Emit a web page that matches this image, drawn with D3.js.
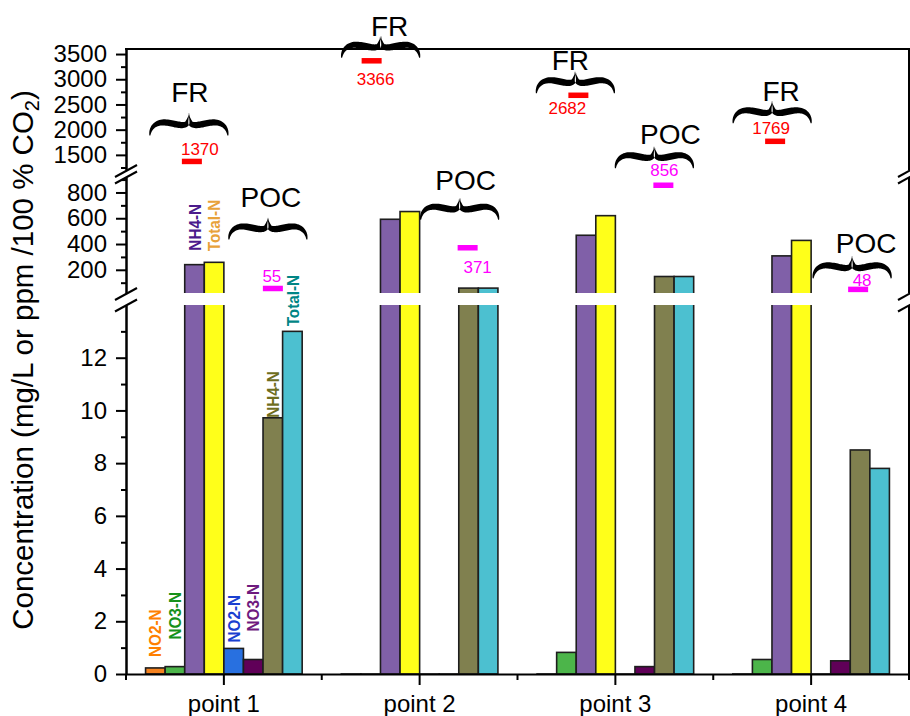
<!DOCTYPE html>
<html>
<head>
<meta charset="utf-8">
<script src="https://cdn.jsdelivr.net/npm/d3@7"></script>
<style>
body { margin: 0; background: #fff; }
svg { display: block; }
text { font-family: "Liberation Sans", Arial, sans-serif; }
</style>
</head>
<body>
<svg id="chart" width="910" height="716"></svg>
<script>
// data
var categories = ["point 1", "point 2", "point 3", "point 4"];
var seriesNames = ["NO2-N", "NO3-N", "NH4-N", "Total-N", "NO2-N", "NO3-N", "NH4-N", "Total-N"];
var groupNames = ["FR", "POC"];

var frNO2 = [0.23, 0, 0, 0];
var frNO3 = [0.28, 0, 0.82, 0.55];
var frNH4 = [240, 592, 468, 308];
var frTN = [258, 652, 620, 428];
var pocNO2 = [0.97, 0, 0, 0];
var pocNO3 = [0.55, 0, 0.28, 0.5];
var pocNH4 = [9.72, 58, 148, 8.5];
var pocTN = [13.0, 58, 148, 7.8];

var frPoint = [1370, 3366, 2682, 1769];
var pocPoint = [55, 371, 856, 48];

var topMajor = [1500, 2000, 2500, 3000, 3500];
var topMinor = [1250, 1750, 2250, 2750, 3250];
var midMajor = [200, 400, 600, 800];
var midMinor = [100, 300, 500, 700, 900];
var botMajor = [0, 2, 4, 6, 8, 10, 12];
var botMinor = [1, 3, 5, 7, 9, 11, 13];

// styles
var fills = ["#f58220", "#4cb54a", "#8060a8", "#ffff1a", "#2870e0", "#600058", "#80804f", "#4cc0d0"];
var labelColors = ["#ff7f00", "#15911a", "#4b1a8c", "#e8a23a", "#1a3fd0", "#6e1a7e", "#6e6e1e", "#008585"];
var labelGap = [11, 27, 14, 11, 6, 28, 0, 5];

// annotation layout (pixel nudges from the computed marker spot)
var markNudge = [[-32, -48, -37, -36], [49, 48, 48, 47]];
var braceDx = [[-3, 9, -3, -3], [-5, -8, -9, -6]];
var braceLift = [[26, 3, 2, 18], [49, 28, 17, 11]];
var nameDx = [[1, 9, -5, 9], [3, 6, 16, 14]];
var nameDy = [[11, 0, 1, 0], [10, 8, 2, 3]];
var valDx = [[8, 4, -11, -4], [-1, 10, 1, 4]];
var valDy = [[-6, 24, 19, -7], [-6, 25, -9, -3]];

var padL = 126, padR = 909, padT = 49, base = 674;
var svg = d3.select("#chart");

var x = d3.scaleBand().domain(categories).range([padL, padR]);
var inner = d3.scaleBand().domain(d3.range(8)).range([0, x.bandwidth() * 0.8]);
var groupOff = x.bandwidth() * 0.1;

var yTop = d3.scaleLinear().domain([1200, 3600]).range([170, padT]);
var yMid = d3.scaleLinear().domain([20, 920]).range([293, 177]);
var yBot = d3.scaleLinear().domain([0, 14]).range([base, 305]);
var segs = [yBot, yMid, yTop];

function yOf(v) {
    if (v <= 14) return yBot(v);
    if (v <= 920) return yMid(v);
    return yTop(v);
}

var series = [frNO2, frNO3, frNH4, frTN, pocNO2, pocNO3, pocNH4, pocTN];
var barData = [];
categories.forEach(function(c, ci) {
    series.forEach(function(s, si) {
        barData.push({cat: c, si: si, v: s[ci]});
    });
});

// bars, one clipped copy per axis segment
segs.forEach(function(sc, k) {
    var d = sc.domain(), r = sc.range();
    svg.append("clipPath").attr("id", "clip" + k)
        .append("rect")
        .attr("x", padL).attr("y", r[1])
        .attr("width", padR - padL)
        .attr("height", r[0] - r[1] + (k == 0 ? 3 : 0));
    var g = svg.append("g").attr("clip-path", "url(#clip" + k + ")");
    var rows = barData.filter(function(b) { return k == 0 ? true : b.v > d[0]; });
    g.selectAll("rect").data(rows).enter().append("rect")
        .attr("x", function(b) { return x(b.cat) + groupOff + inner(b.si); })
        .attr("width", inner.bandwidth())
        .attr("y", function(b) { return b.v > d[1] ? r[1] - 5 : sc(b.v); })
        .attr("height", function(b) {
            var y0 = b.v > d[1] ? r[1] - 5 : sc(b.v);
            var y1 = k == 0 ? r[0] : r[0] + 5;
            return Math.max(y1 - y0, 0.01);
        })
        .attr("fill", function(b) { return fills[b.si]; })
        .attr("stroke", "#1e1e1e")
        .attr("stroke-width", 1.6);
});

// left axis segments
function styleAxis(g) {
    g.selectAll("path").attr("stroke", "#000").attr("stroke-width", 2);
    g.selectAll("line").attr("stroke", "#000").attr("stroke-width", 2);
    g.selectAll("text").attr("font-size", 24).attr("fill", "#000")
        .style("font-family", "'Liberation Sans', Arial, sans-serif");
}
var majors = [botMajor, midMajor, topMajor];
var minors = [botMinor, midMinor, topMinor];
segs.forEach(function(sc, k) {
    svg.append("g").attr("transform", "translate(" + padL + ",0)")
        .call(d3.axisLeft(sc).tickValues(minors[k]).tickSize(5).tickSizeOuter(0).tickFormat(""))
        .call(styleAxis);
    svg.append("g").attr("transform", "translate(" + padL + ",0)")
        .call(d3.axisLeft(sc).tickValues(majors[k]).tickSize(10).tickPadding(9)
            .tickSizeOuter(0).tickFormat(d3.format("d")))
        .call(styleAxis);
    // right frame piece
    var r = sc.range();
    svg.append("line").attr("x1", padR).attr("x2", padR)
        .attr("y1", r[0]).attr("y2", r[1])
        .attr("stroke", "#000").attr("stroke-width", 2);
});

// top frame
svg.append("line").attr("x1", padL - 1).attr("x2", padR + 1).attr("y1", padT).attr("y2", padT)
    .attr("stroke", "#000").attr("stroke-width", 2);

// break marks
var gaps = [[yTop.range()[0], yMid.range()[1]], [yMid.range()[0], yBot.range()[1]]];
gaps.forEach(function(gp) {
    [padL, padR].forEach(function(ax) {
        [gp[0] + 1, gp[1] + 0.5].forEach(function(yc) {
            svg.append("line")
                .attr("x1", ax - 11).attr("y1", yc + 6)
                .attr("x2", ax + 11).attr("y2", yc - 6)
                .attr("stroke", "#000").attr("stroke-width", 2);
        });
    });
});

// bottom axis
svg.append("g").attr("transform", "translate(0," + base + ")")
    .call(d3.axisBottom(x).tickSize(11).tickSizeOuter(0).tickPadding(10))
    .call(styleAxis);
svg.append("g").selectAll("line")
    .data(d3.range(categories.length + 1)).enter().append("line")
    .attr("x1", function(i) { return padL + i * x.step(); })
    .attr("x2", function(i) { return padL + i * x.step(); })
    .attr("y1", base).attr("y2", base + 6)
    .attr("stroke", "#000").attr("stroke-width", 2);

// y title
var yt = svg.append("text")
    .attr("transform", "translate(33,360) rotate(-90)")
    .attr("text-anchor", "middle")
    .attr("font-size", 29.5)
    .attr("fill", "#000");
yt.append("tspan").text("Concentration (mg/L or ppm /100 % CO");
yt.append("tspan").attr("font-size", 20).attr("dy", 6).text("2");
yt.append("tspan").attr("dy", -6).text(")");

// bar labels on point 1
seriesNames.forEach(function(name, si) {
    var v = series[si][0];
    var bx = x(categories[0]) + groupOff + inner(si) + inner.bandwidth() / 2;
    var by = yOf(v) - labelGap[si];
    svg.append("text")
        .attr("transform", "translate(" + bx + "," + by + ") rotate(-90) scale(0.9,1)")
        .attr("dy", "0.36em")
        .attr("font-size", 17)
        .attr("font-weight", "bold")
        .attr("fill", labelColors[si])
        .text(name);
});

// curly brace, tip pointing up
function bracePath(cx, yb, w, h) {
    var hw = w / 2, sx = hw / 39, sy = h / 22;
    var curves = [
        [[0, 0], [0.3, -8], [6, -13.5], [15, -13]],
        [[15, -13], [24, -12.5], [33, -8], [37, -12]],
        [[37, -12], [38, -14], [38.5, -18], [39, -22]]
    ];
    var pts = [];
    curves.forEach(function(c, ci) {
        for (var i = 0; i <= 20; i++) {
            if (ci > 0 && i == 0) continue;
            var t = i / 20, mt = 1 - t;
            var px = mt * mt * mt * c[0][0] + 3 * mt * mt * t * c[1][0] + 3 * mt * t * t * c[2][0] + t * t * t * c[3][0];
            var py = mt * mt * mt * c[0][1] + 3 * mt * mt * t * c[1][1] + 3 * mt * t * t * c[2][1] + t * t * t * c[3][1];
            pts.push([px * sx, py * sy]);
        }
    });
    var n = pts.length, upper = [], lower = [];
    pts.forEach(function(p, i) {
        var a = pts[Math.max(i - 1, 0)], b = pts[Math.min(i + 1, n - 1)];
        var dx = b[0] - a[0], dy = b[1] - a[1], len = Math.sqrt(dx * dx + dy * dy) || 1;
        var nx = -dy / len, ny = dx / len;
        var s = i / (n - 1);
        var th = (1 + 5.6 * Math.pow(Math.sin(Math.PI * Math.min(s / 0.9, 1)), 0.9)) / 2;
        upper.push([p[0] + nx * th, p[1] + ny * th]);
        lower.push([p[0] - nx * th, p[1] - ny * th]);
    });
    var half = upper.concat(lower.reverse());
    function toStr(arr, dir) {
        return "M" + arr.map(function(p) {
            return (cx + dir * (hw - p[0])).toFixed(2) + "," + (yb + p[1]).toFixed(2);
        }).join("L") + "Z";
    }
    return toStr(half, -1) + toStr(half, 1);
}

// FR / POC points with braces
var pointSets = [frPoint, pocPoint];
var pointColors = ["#ff0000", "#ff00ff"];
pointSets.forEach(function(vals, gi) {
    vals.forEach(function(v, ci) {
        var mx = x(categories[ci]) + x.bandwidth() / 2 + markNudge[gi][ci];
        var my = yOf(v);
        svg.append("rect")
            .attr("x", mx - 10).attr("y", my - 2.75)
            .attr("width", 20).attr("height", 5.5)
            .attr("fill", pointColors[gi]);
        svg.append("text")
            .attr("x", mx + valDx[gi][ci]).attr("y", my + valDy[gi][ci])
            .attr("text-anchor", "middle")
            .attr("font-size", 17)
            .attr("fill", pointColors[gi])
            .text(v);
        var bcx = mx + braceDx[gi][ci];
        var byb = my - braceLift[gi][ci];
        svg.append("path")
            .attr("d", bracePath(bcx, byb, 78, 22))
            .attr("fill", "#000");
        svg.append("text")
            .attr("x", bcx + nameDx[gi][ci]).attr("y", byb - 22 - nameDy[gi][ci])
            .attr("text-anchor", "middle")
            .attr("font-size", 28)
            .attr("fill", "#000")
            .text(groupNames[gi]);
    });
});
</script>
</body>
</html>
